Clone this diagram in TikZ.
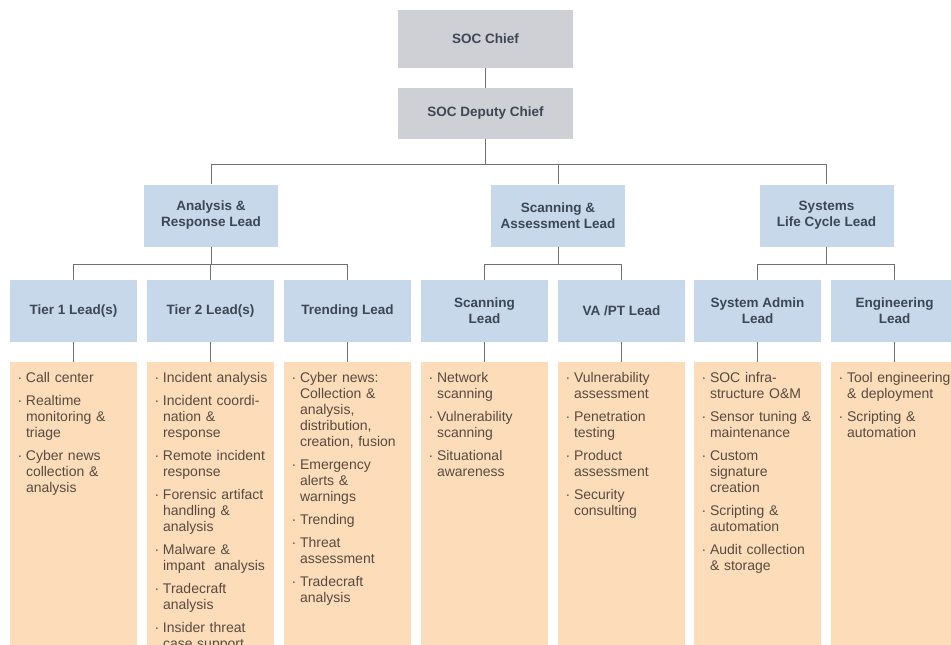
\documentclass[tikz,border=0pt]{standalone}
\usepackage{fontspec}
\setmainfont{Liberation Sans}
\definecolor{greybox}{HTML}{CFD0D6}
\definecolor{bluebox}{HTML}{C7D8EA}
\definecolor{orangebox}{HTML}{FDDCB9}
\definecolor{headtext}{HTML}{3D4654}
\definecolor{bodytext}{HTML}{574B41}
\definecolor{linec}{HTML}{707070}
\newcommand{\bitem}[1]{\noindent\makebox[8.5pt][l]{·}\begin{tabular}[t]{@{}l@{}}#1\end{tabular}\par}
\tikzset{
  hdr/.style={inner sep=0pt, align=center, text=headtext, font=\bfseries\fontsize{13.5}{16}\selectfont},
  greyb/.style={hdr, fill=greybox, minimum width=175pt},
  blueb/.style={hdr, fill=bluebox, minimum width=134pt, minimum height=62pt},
  bluec/.style={hdr, fill=bluebox, minimum width=127pt, minimum height=62pt},
  orb/.style={fill=orangebox, inner sep=0pt, minimum width=127pt, minimum height=300pt, anchor=north},
  body/.style={inner sep=0pt, anchor=north west, text width=125pt, align=left, text=bodytext,
    font=\fontsize{14}{16}\selectfont,
    execute at begin node={\setlength{\parskip}{7pt}\setlength{\lineskip}{0pt}},
    xshift=7.5pt, yshift=-9.5pt},
  conn/.style={draw=linec, line width=1pt}
}
\begin{document}
\begin{tikzpicture}[x=1pt,y=-1pt]
\useasboundingbox (0,0) rectangle (951,645);
\fill[white] (0,0) rectangle (951,645);
\clip (0,0) rectangle (951,645);

% level 1
\node[greyb, minimum height=58pt] (chief) at (485.5,39) {SOC Chief};
\node[greyb, minimum height=51pt] (deputy) at (485.5,113.5) {SOC Deputy Chief};

% level 2
\node[blueb] (ar) at (211,215.5) {Analysis \&\\Response Lead};
\node[blueb] (sa) at (558,215.5) {Scanning \&\\Assessment Lead};
\node[blueb] (sl) at (826.5,215.5) {Systems\\Life Cycle Lead};

% level 3
\node[bluec] (t1) at (73.5,311) {\raisebox{-2pt}{Tier 1 Lead(s)}};
\node[bluec] (t2) at (210.5,311) {\raisebox{-2pt}{Tier 2 Lead(s)}};
\node[bluec] (t3) at (347.5,311) {\raisebox{-2pt}{Trending Lead}};
\node[bluec] (t4) at (484.5,311) {Scanning\\Lead};
\node[bluec] (t5) at (621.5,311) {\raisebox{-2pt}{VA /PT Lead}};
\node[bluec] (t6) at (757.5,311) {System Admin\\Lead};
\node[bluec] (t7) at (894.5,311) {Engineering\\Lead};

% level 4 boxes
\node[orb] (o1) at (73.5,362) {};
\node[orb] (o2) at (210.5,362) {};
\node[orb] (o3) at (347.5,362) {};
\node[orb] (o4) at (484.5,362) {};
\node[orb] (o5) at (621.5,362) {};
\node[orb] (o6) at (757.5,362) {};
\node[orb] (o7) at (894.5,362) {};

% level 4 texts
\node[body] (x1) at (o1.north west) {%
\bitem{Call center}
\bitem{Realtime\\monitoring \&\\triage}
\bitem{Cyber news\\collection \&\\analysis}};
\node[body] (x2) at (o2.north west) {%
\bitem{Incident analysis}
\bitem{Incident coordi-\\nation \&\\response}
\bitem{Remote incident\\response}
\bitem{Forensic artifact\\handling \&\\analysis}
\bitem{Malware \&\\impant\ \ analysis}
\bitem{Tradecraft\\analysis}
\bitem{Insider threat\\case support}};
\node[body] (x3) at (o3.north west) {%
\bitem{Cyber news:\\Collection \&\\analysis,\\distribution,\\creation, fusion}
\bitem{Emergency\\alerts \&\\warnings}
\bitem{Trending}
\bitem{Threat\\assessment}
\bitem{Tradecraft\\analysis}};
\node[body] (x4) at (o4.north west) {%
\bitem{Network\\scanning}
\bitem{Vulnerability\\scanning}
\bitem{Situational\\awareness}};
\node[body] (x5) at (o5.north west) {%
\bitem{Vulnerability\\assessment}
\bitem{Penetration\\testing}
\bitem{Product\\assessment}
\bitem{Security\\consulting}};
\node[body] (x6) at (o6.north west) {%
\bitem{SOC infra-\\structure O\&M}
\bitem{Sensor tuning \&\\maintenance}
\bitem{Custom\\signature\\creation}
\bitem{Scripting \&\\automation}
\bitem{Audit collection\\\& storage}};
\node[body] (x7) at (o7.north west) {%
\bitem{Tool engineering\\\& deployment}
\bitem{Scripting \&\\automation}};

% connectors
\coordinate (bar1) at (0,164);
\coordinate (bar2) at (0,264);
\draw[conn] (chief) -- (deputy);
\draw[conn] (deputy.south) -- (deputy.south |- bar1) -| (ar.north);
\draw[conn] (deputy.south |- bar1) -| (sa.north);
\draw[conn] (deputy.south |- bar1) -| (sl.north);
\draw[conn] (ar.south) -- (ar.south |- bar2) -| (t1.north);
\draw[conn] (ar.south |- bar2) -| (t3.north);
\draw[conn] (ar.south |- bar2) -| (t2.north);
\draw[conn] (sa.south) -- (sa.south |- bar2) -| (t4.north);
\draw[conn] (sa.south |- bar2) -| (t5.north);
\draw[conn] (sl.south) -- (sl.south |- bar2) -| (t6.north);
\draw[conn] (sl.south |- bar2) -| (t7.north);
\draw[conn] (t1) -- (o1);
\draw[conn] (t2) -- (o2);
\draw[conn] (t3) -- (o3);
\draw[conn] (t4) -- (o4);
\draw[conn] (t5) -- (o5);
\draw[conn] (t6) -- (o6);
\draw[conn] (t7) -- (o7);
\end{tikzpicture}
\end{document}
